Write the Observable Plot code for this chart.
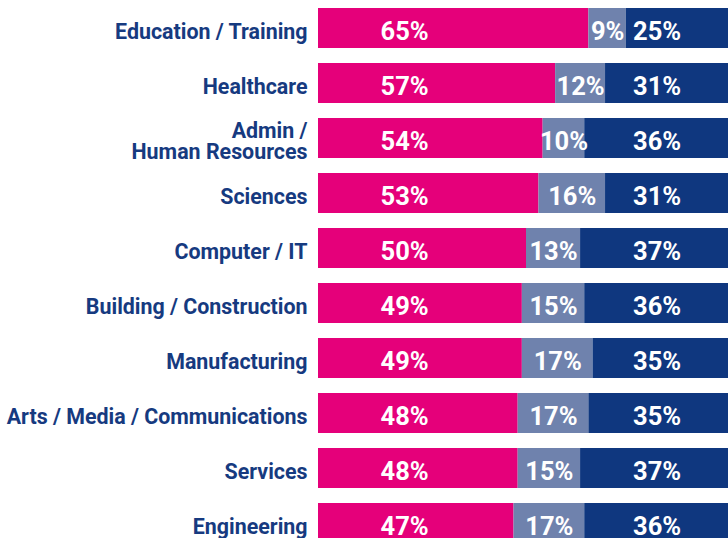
<!DOCTYPE html>
<html>
<head>
<meta charset="utf-8">
<script src="https://cdn.jsdelivr.net/npm/d3@7"></script>
<script src="https://cdn.jsdelivr.net/npm/@observablehq/plot@0.6"></script>
<style>
  html, body { margin: 0; padding: 0; background: #fff; overflow: hidden; }
  #chart svg { display: block; overflow: hidden; }
</style>
</head>
<body>
<div id="chart"></div>
<script>
const categories = [
  "Education / Training",
  "Healthcare",
  "Admin /\nHuman Resources",
  "Sciences",
  "Computer / IT",
  "Building / Construction",
  "Manufacturing",
  "Arts / Media / Communications",
  "Services",
  "Engineering"
];
const seriesNames = ["A", "B", "C"];
const pinkValues = [65, 57, 54, 53, 50, 49, 49, 48, 48, 47];
const grayValues = [9, 12, 10, 16, 13, 15, 17, 17, 15, 17];
const navyValues = [25, 31, 36, 31, 37, 36, 35, 35, 37, 36];

const colors = ["#e5007a", "#6f82ad", "#0f377f"];
const textColor = "#163a80";

const rows = [];
categories.forEach((c, i) => {
  [pinkValues[i], grayValues[i], navyValues[i]].forEach((v, j) => {
    rows.push({category: c, series: seriesNames[j], value: v, idx: j});
  });
});

const pinkLabels = categories.map((c, i) => ({category: c, x: 20.7, text: pinkValues[i] + "%"}));
const grayLabels = categories.map((c, i) => ({category: c, x: pinkValues[i] + grayValues[i] / 2, text: grayValues[i] + "%"}));
const navyLabels = categories.map((c, i) => ({category: c, x: 81.4, text: navyValues[i] + "%"}));
const valueLabels = [...pinkLabels, ...grayLabels, ...navyLabels];

const plot = Plot.plot({
  width: 728,
  height: 538,
  marginLeft: 318,
  marginRight: 0,
  marginTop: 0,
  marginBottom: 0,
  x: {domain: [0, 100], range: [318, 734], axis: null},
  y: {domain: categories, range: [8, 543], paddingInner: 15 / 55, paddingOuter: 0, axis: null},
  color: {domain: seriesNames, range: colors},
  style: {fontFamily: "Roboto, sans-serif", background: "#fff", overflow: "hidden"},
  marks: [
    Plot.barX(rows, Plot.stackX({x: "value", y: "category", fill: "series", order: "idx"})),
    Plot.text(valueLabels, {
      x: "x", y: "category", text: "text", dy: 3.5,
      fill: "white", fontSize: 25.5, fontWeight: 700, textAnchor: "middle"
    }),
    Plot.text(categories, {
      y: d => d, text: d => d, frameAnchor: "left", dx: -11, dy: 3.5, textAnchor: "end",
      fill: textColor, fontSize: 21.4, fontWeight: 700, lineHeight: 0.99
    })
  ]
});
document.getElementById("chart").appendChild(plot);
</script>
</body>
</html>
